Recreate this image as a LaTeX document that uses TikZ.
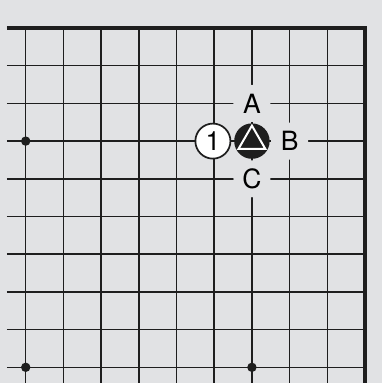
\documentclass[tikz,border=0pt]{standalone}
\usepackage{fontspec}
\setmainfont{TeX Gyre Heros}
\usepackage{tikz}
\usetikzlibrary{shapes.geometric, positioning}
\definecolor{board}{RGB}{225,226,228}
\definecolor{ink}{RGB}{30,30,30}
\newcommand{\goLabel}{\fontsize{20}{24}\selectfont}
\tikzset{
  whitestone/.style={circle, draw=ink, line width=1.3pt, fill=white, minimum size=0.93cm, inner sep=0pt, font=\goLabel},
  blackstone/.style={circle, fill=ink, minimum size=0.94cm, inner sep=0pt},
  trimark/.style={regular polygon, regular polygon sides=3, draw=white, line width=1.5pt, minimum size=0.82cm, inner sep=0pt},
  pointlabel/.style={circle, fill=board, minimum size=0.98cm, inner sep=0pt, font=\goLabel},
  hoshi/.style={circle, fill=ink, minimum size=0.25cm, inner sep=0pt}
}

\begin{document}
\begin{tikzpicture}[x=1cm, y=1cm]
  \fill[board] (-0.682,0.743) rectangle (9.451,-9.416);
  \useasboundingbox (-0.682,0.743) rectangle (9.451,-9.416);
  \draw[ink, line width=1.15pt] (-0.5,-9.416) grid (9,0);
  \draw[ink, line width=2.6pt, line join=miter] (-0.5,0) -- (9,0) -- (9,-9.416);
  % star points
  \node[hoshi] (h1) at (0,-3) {};
  \node[hoshi] (h2) at (0,-9) {};
  \node[hoshi] (h3) at (6,-9) {};
  % stones
  \node[blackstone] (bs) at (6,-3) {};
  \node[trimark] (tri) at (bs.center) {};
  \node[whitestone, left=0.07cm of bs] (ws) {1};
  % points
  \node[pointlabel] (pA) at (6,-2) {A};
  \node[pointlabel] (pB) at (7,-3) {B};
  \node[pointlabel] (pC) at (6,-4) {C};
\end{tikzpicture}
\end{document}
